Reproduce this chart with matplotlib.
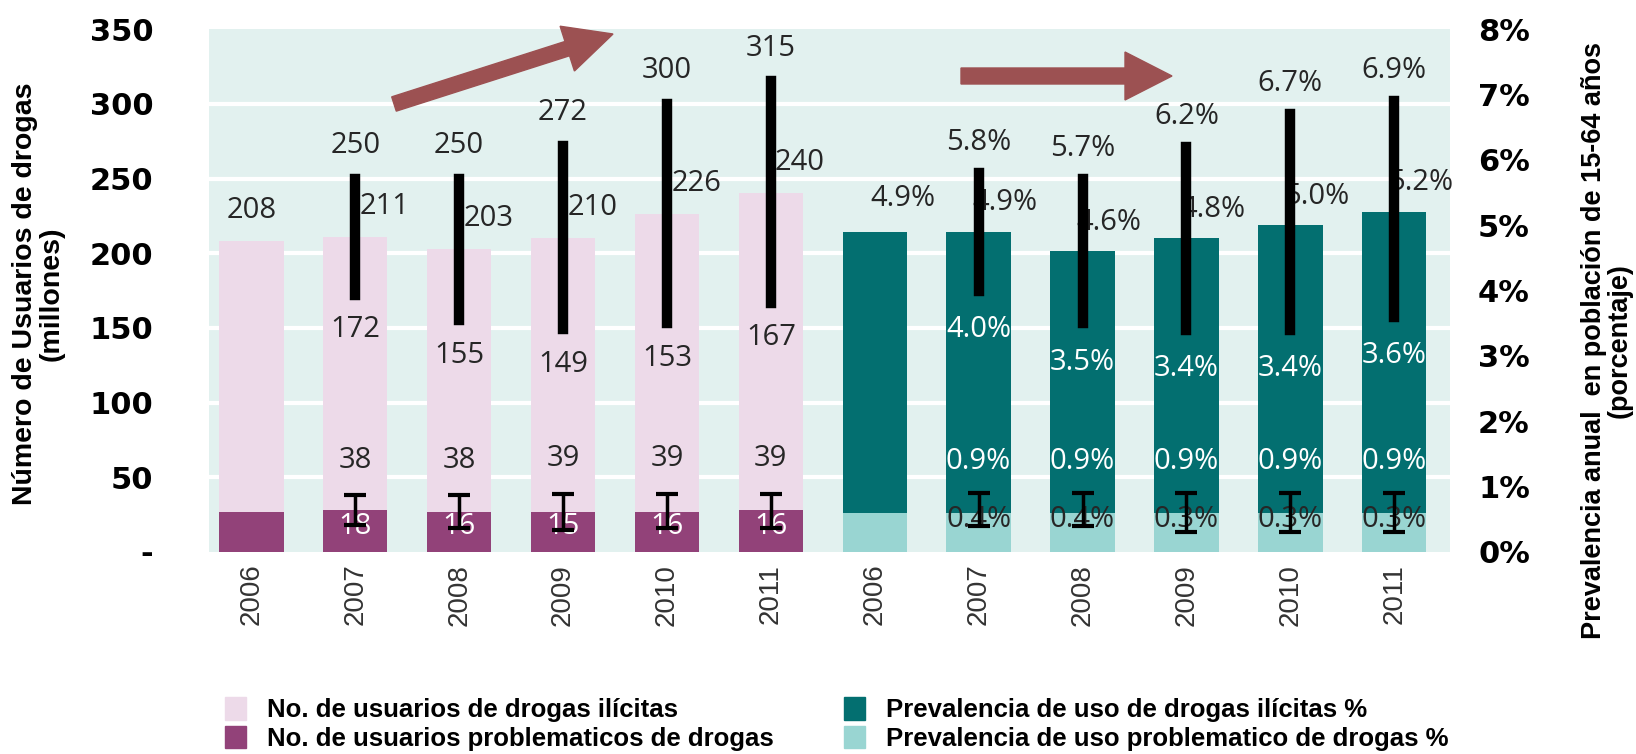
import matplotlib
matplotlib.use("Agg")
import matplotlib.pyplot as plt
import matplotlib.patches as mpatches
from matplotlib.transforms import IdentityTransform
import numpy as np

# data
years = ["2006", "2007", "2008", "2009", "2010", "2011"]
users = [208, 211, 203, 210, 226, 240]              # millones
users_low = [172, 155, 149, 153, 167]               # 2007-2011
users_high = [250, 250, 272, 300, 315]
prob_users = [27, 28, 27, 27, 27, 28]               # drawn bar height
prob_low = [18, 16, 15, 16, 16]
prob_high = [38, 38, 39, 39, 39]

prev = [4.9, 4.9, 4.6, 4.8, 5.0, 5.2]               # %
prev_low = [4.0, 3.5, 3.4, 3.4, 3.6]
prev_high = [5.8, 5.7, 6.2, 6.7, 6.9]
prob_prev = [0.6, 0.6, 0.6, 0.6, 0.6, 0.6]          # drawn bar height
prob_prev_low = [0.4, 0.4, 0.3, 0.3, 0.3]
prob_prev_high = [0.9, 0.9, 0.9, 0.9, 0.9]

BG = "#e2f1ef"
PINK = "#eddae9"
PURPLE = "#924279"
TEAL = "#036f70"
LTEAL = "#99d5d2"
ARROW = "#9c5152"
TXT = "#262626"
VAL_FONT = ["Open Sans", "DejaVu Sans"]

fig = plt.figure(figsize=(16.36, 7.54), dpi=100)
ax = fig.add_axes([0.1276, 0.268, 0.7589, 0.6933])
ax2 = ax.twinx()

x_users = np.arange(6)
x_prev = np.arange(6, 12)
w = 0.62

ax.set_facecolor(BG)
ax.set_ylim(0, 350)
ax2.set_ylim(0, 8)
ax.set_xlim(-0.41, 11.54)

# white horizontal grid
for v in range(50, 350, 50):
    ax.axhline(v, color="white", lw=3, zorder=0)

ax.bar(x_users, users, width=w, color=PINK, zorder=2)
ax.bar(x_users, prob_users, width=w, color=PURPLE, zorder=2)
ax2.bar(x_prev, prev, width=w, color=TEAL, zorder=2)
ax2.bar(x_prev, prob_prev, width=w, color=LTEAL, zorder=2)

# ranges
ax.vlines(x_users[1:], users_low, users_high, color="black", lw=7.5, zorder=6,
          capstyle="projecting")
ax2.vlines(x_prev[1:], prev_low, prev_high, color="black", lw=7.5, zorder=6,
           capstyle="projecting")
pl, ph = np.array(prob_low), np.array(prob_high)
ax.errorbar(x_users[1:], (pl + ph) / 2, yerr=(ph - pl) / 2, fmt="none",
            ecolor="black", elinewidth=2.5, capsize=8, capthick=3, zorder=6)
ql, qh = np.array(prob_prev_low), np.array(prob_prev_high)
ax2.errorbar(x_prev[1:], (ql + qh) / 2, yerr=(qh - ql) / 2, fmt="none",
             ecolor="black", elinewidth=2.5, capsize=8, capthick=3, zorder=6)


def lab(a, x, y, s, dx=0, dy=0, color=TXT):
    a.annotate(s, (x, y), xytext=(dx, dy), textcoords="offset points",
               ha="center", va="center", fontsize=21, color=color,
               family=VAL_FONT, zorder=5)


# value labels, users
for i, v in enumerate(users):
    lab(ax, x_users[i], v, str(v), dx=0 if i == 0 else 21, dy=22)
for i in range(5):
    x = x_users[i + 1]
    lab(ax, x, users_high[i], str(users_high[i]), dy=24)
    lab(ax, x, users_low[i], str(users_low[i]), dy=-25)
    lab(ax, x, prob_high[i], str(prob_high[i]), dy=25)
    lab(ax, x, 17, str(prob_low[i]), color="white")

# value labels, prevalence
for i, v in enumerate(prev):
    lab(ax2, x_prev[i], v, f"{v:.1f}%", dx=20 if i == 0 else 19, dy=24 if i == 0 else 21)
for i in range(5):
    x = x_prev[i + 1]
    lab(ax2, x, prev_high[i], f"{prev_high[i]:.1f}%", dy=22)
    lab(ax2, x, prev_low[i], f"{prev_low[i]:.1f}%", dy=-28, color="white")
    lab(ax2, x, prob_prev_high[i], f"{prob_prev_high[i]:.1f}%", dy=23, color="white")
    lab(ax2, x, 0.5, f"{prob_prev_low[i]:.1f}%")

# axes styling
for a in (ax, ax2):
    for s in a.spines.values():
        s.set_visible(False)
ax.set_xticks(np.arange(12))
ax.set_xticklabels(years + years, rotation=90, fontsize=20, color="#333333",
                   family="Liberation Sans")
ax.tick_params(axis="x", length=0, pad=8.5)
ax.set_yticks(range(0, 351, 50))
ax.set_yticklabels(["-"] + [str(v) for v in range(50, 351, 50)])
ax.tick_params(axis="y", length=0, pad=40, labelsize=22)
ax2.set_yticks(range(0, 9))
ax2.set_yticklabels([f"{v}%" for v in range(0, 9)])
ax2.tick_params(axis="y", length=0, pad=20, labelsize=22)
for t in ax.get_yticklabels() + ax2.get_yticklabels():
    t.set_fontweight("bold")
    t.set_family("DejaVu Sans")

fig.text(0.0235, 0.61, "Número de Usuarios de drogas\n(millones)", rotation=90,
         ha="center", va="center", multialignment="center", fontsize=20.5,
         fontweight="bold", family="Liberation Sans", linespacing=1.0)
fig.text(0.982, 0.548, "Prevalencia anual  en población de 15-64 años\n(porcentaje)",
         rotation=90, ha="center", va="center", multialignment="center",
         fontsize=19.5, fontweight="bold", family="Liberation Sans", linespacing=1.0)

# trend arrows (pixel coordinates, origin bottom-left)
H = 754
fig.add_artist(mpatches.FancyArrow(394, H - 104, 219, 70, width=15, head_width=47,
                                   head_length=48, length_includes_head=True,
                                   color=ARROW, transform=IdentityTransform()))
fig.add_artist(mpatches.FancyArrow(961, H - 76, 211, 0, width=16, head_width=48,
                                   head_length=47, length_includes_head=True,
                                   color=ARROW, transform=IdentityTransform()))

legend_font = {"family": "Liberation Sans", "weight": "bold", "size": 18.5}
legend_kw = dict(loc="upper left", frameon=False, prop=legend_font,
                 handlelength=0.82, handleheight=0.95, handletextpad=0.8,
                 labelspacing=0.15, borderpad=0, borderaxespad=0)
fig.legend([mpatches.Patch(color=PINK), mpatches.Patch(color=PURPLE)],
           ["No. de usuarios de drogas ilícitas",
            "No. de usuarios problematicos de drogas"],
           bbox_to_anchor=(225 / 1636, 0.075), **legend_kw)
fig.legend([mpatches.Patch(color=TEAL), mpatches.Patch(color=LTEAL)],
           ["Prevalencia de uso de drogas ilícitas %",
            "Prevalencia de uso problematico de drogas %"],
           bbox_to_anchor=(844 / 1636, 0.075), **legend_kw)

fig.savefig("out.png", dpi=100)
